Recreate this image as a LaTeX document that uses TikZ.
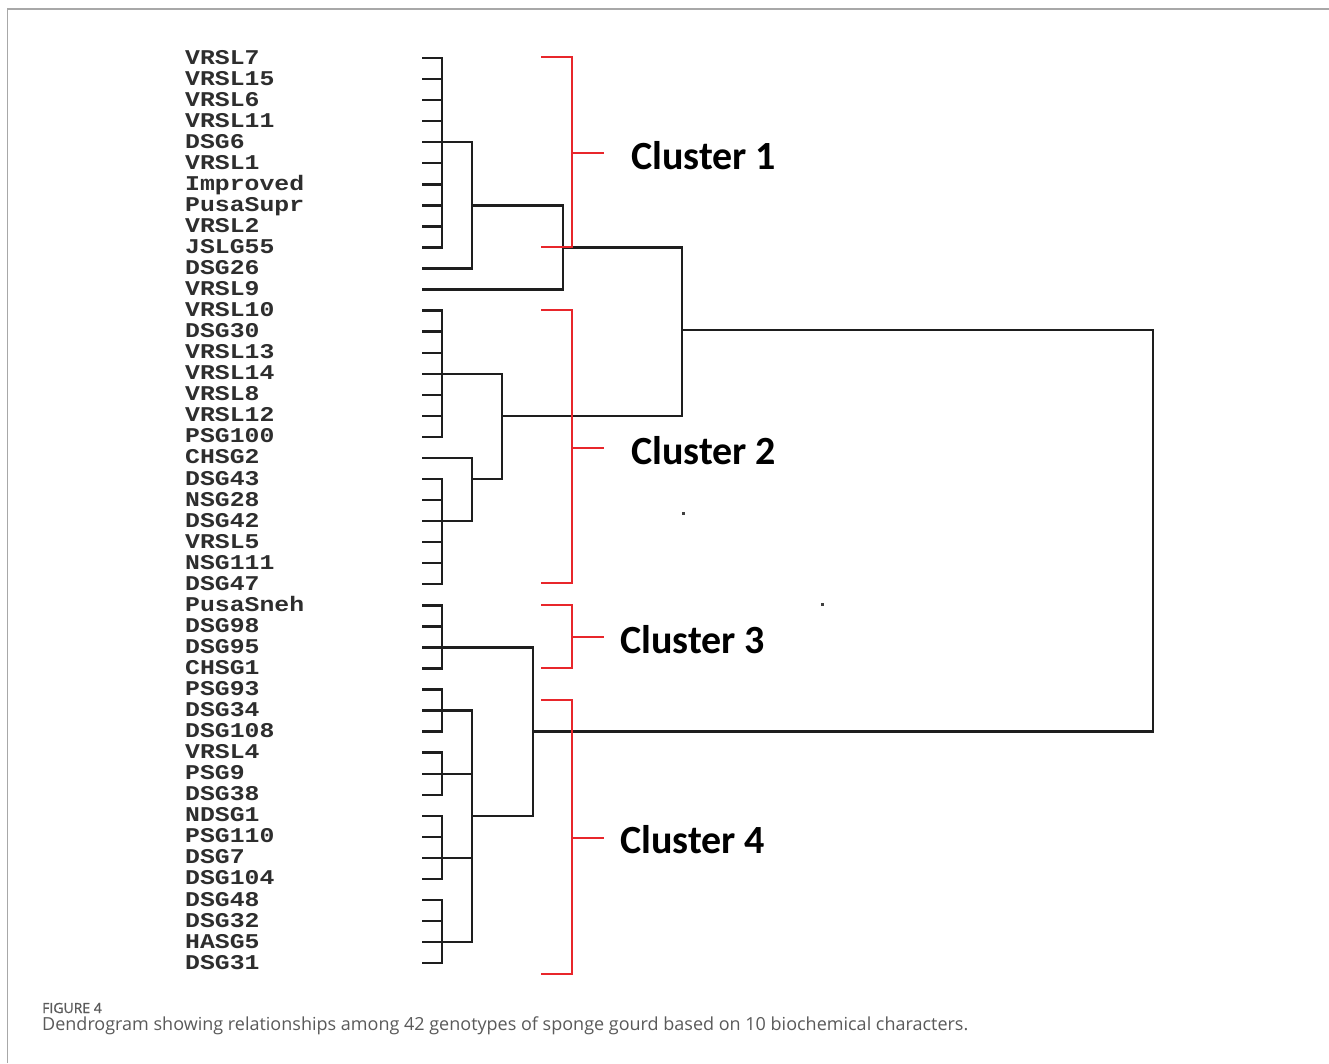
\documentclass[tikz,border=0pt]{standalone}
\usepackage{fontspec}
\usepackage{graphicx}
\setmainfont{Liberation Serif}
\newfontfamily\monob{Liberation Mono}
\newfontfamily\clubold{Carlito}
\newfontfamily\capfont{Open Sans}
\newfontfamily\capfontb[FakeBold=0.8]{Open Sans}
\definecolor{clred}{HTML}{E8262B}
\definecolor{dline}{HTML}{1E1E1E}
\definecolor{labgray}{HTML}{2E2E2E}
\definecolor{captgray}{HTML}{5A5A5A}
\definecolor{framegray}{HTML}{A8A8A8}
\newcommand{\lbl}[1]{\scalebox{1.18}[1]{\monob\bfseries\fontsize{21}{21}\selectfont #1}}
\tikzset{
  den/.style={draw=dline, line width=2.4pt, line cap=rect},
  brk/.style={draw=clred, line width=1.6pt},
  lab/.style={anchor=base west, inner sep=0pt, text=labgray},
  clu/.style={anchor=base west, inner sep=0pt, font=\clubold\bfseries\fontsize{40}{40}\selectfont, text=black},
  capt/.style={anchor=base west, inner sep=0pt, text=captgray},
}
\begin{document}
\begin{tikzpicture}[x=1pt,y=-1pt]
\useasboundingbox (0,0) rectangle (1329,1063);
\fill[white] (0,0) rectangle (1329,1063);
% frame
\draw[framegray, line width=1.6pt] (7.5,1063) -- (7.5,9) -- (1329,9);
% columns
\coordinate (xA) at (442,0);
\coordinate (xB) at (472,0);
\coordinate (xC) at (502,0);
\coordinate (xD) at (533,0);
\coordinate (xE) at (563,0);
\coordinate (xF) at (682,0);
\coordinate (xG) at (1153,0);
\coordinate (top) at (0,330);
% leaves
\foreach \t [count=\i from 0] in {VRSL7,VRSL15,VRSL6,VRSL11,DSG6,VRSL1,Improved,PusaSupr,VRSL2,JSLG55,DSG26,VRSL9,VRSL10,DSG30,VRSL13,VRSL14,VRSL8,VRSL12,PSG100,CHSG2,DSG43,NSG28,DSG42,VRSL5,NSG111,DSG47,PusaSneh,DSG98,DSG95,CHSG1,PSG93,DSG34,DSG108,VRSL4,PSG9,DSG38,NDSG1,PSG110,DSG7,DSG104,DSG48,DSG32,HASG5,DSG31}{
  \node[lab] (L\i) at (185,{64+21.05*\i}) {\lbl{\t}};
  \coordinate (T\i) at (423,{58+21.05*\i});
}
% short ticks to column A
\foreach \i in {0,...,9,12,13,14,15,16,17,18,20,21,22,23,24,25,26,27,28,29,30,31,...,43}{
  \draw[den] (T\i) -- (xA |- T\i);
}
% cluster 1 tree
\draw[den] (xA |- T0) -- (xA |- T9);
\draw[den] (xA |- T4) -- (xB |- T4);
\draw[den] (T10) -- (xB |- T10);
\draw[den] (xB |- T4) -- (xB |- T10);
\draw[den] (xB |- T7) -- (xE |- T7);
\draw[den] (T11) -- (xE |- T11);
\draw[den] (xE |- T7) -- (xE |- T11);
\draw[den] (xE |- T9) -- (xF |- T9);
\draw[den] (xF |- T9) -- (xF |- T17);
% cluster 2 tree
\draw[den] (xA |- T12) -- (xA |- T18);
\draw[den] (xA |- T15) -- (xC |- T15);
\draw[den] (xC |- T15) -- (xC |- T20);
\draw[den] (xC |- T17) -- (xF |- T17);
\draw[den] (T19) -- (xB |- T19);
\draw[den] (xB |- T19) -- (xB |- T22);
\draw[den] (xB |- T20) -- (xC |- T20);
\draw[den] (xA |- T20) -- (xA |- T25);
\draw[den] (xA |- T22) -- (xB |- T22);
% cluster 3
\draw[den] (xA |- T26) -- (xA |- T29);
\draw[den] (xA |- T28) -- (xD |- T28);
\draw[den] (xD |- T28) -- (xD |- T36);
\draw[den] (xD |- T32) -- (xG |- T32);
% cluster 4
\draw[den] (xA |- T30) -- (xA |- T32);
\draw[den] (xA |- T33) -- (xA |- T35);
\draw[den] (xA |- T36) -- (xA |- T39);
\draw[den] (xA |- T40) -- (xA |- T43);
\foreach \i in {31,34,38,42}{\draw[den] (xA |- T\i) -- (xB |- T\i);}
\draw[den] (xB |- T31) -- (xB |- T42);
\draw[den] (xB |- T36) -- (xD |- T36);
% root
\draw[den] (xF |- top) -- (xG |- top);
\draw[den] (xG |- top) -- (xG |- T32);
% red brackets
\coordinate (b1t) at (572,57);  \coordinate (b1b) at (572,247); \coordinate (b1m) at (572,153);
\coordinate (b2t) at (572,310); \coordinate (b2b) at (572,583); \coordinate (b2m) at (572,448);
\coordinate (b3t) at (572,605); \coordinate (b3b) at (572,668); \coordinate (b3m) at (572,637);
\coordinate (b4t) at (572,700); \coordinate (b4b) at (572,974); \coordinate (b4m) at (572,838);
\foreach \k in {1,2,3,4}{
  \draw[brk] ([xshift=-31pt]b\k t) -- (b\k t) -- (b\k b) -- ([xshift=-31pt]b\k b);
  \draw[brk] (b\k m) -- ([xshift=32pt]b\k m);
}
\node[clu] (c1) at (631,169) {Cluster 1};
\node[clu] (c2) at (631,464) {Cluster 2};
\node[clu] (c3) at (620,653) {Cluster 3};
\node[clu] (c4) at (620,853) {Cluster 4};
% specks
\fill[black!75] (681.5,511.5) rectangle (684.5,514.5);
\fill[black!75] (820.5,602.5) rectangle (823.5,605.5);
% caption
\node[capt, font=\capfontb\fontsize{14}{15}\selectfont] (fig) at (42,1013) {FIGURE 4};
\node[capt, font=\capfont\fontsize{18}{19}\selectfont] (cap) at (42,1030) {Dendrogram showing relationships among 42 genotypes of sponge gourd based on 10 biochemical characters.};
\end{tikzpicture}
\end{document}
